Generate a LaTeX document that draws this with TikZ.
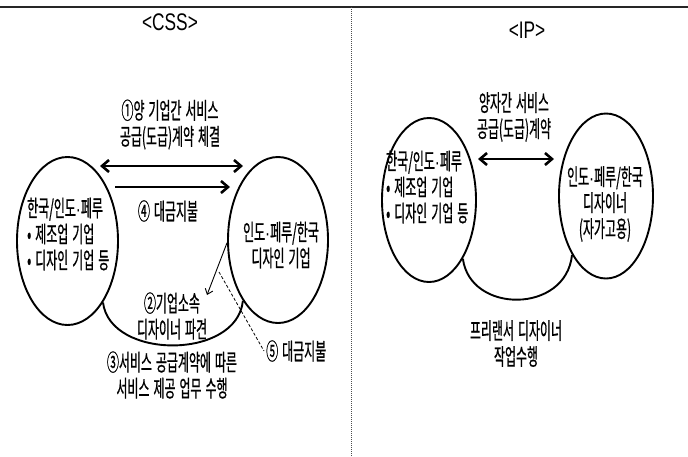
\documentclass[tikz,border=0pt]{standalone}
\usepackage{fontspec}
\usetikzlibrary{shapes.geometric, arrows.meta, calc}
\newfontfamily\krfont[FakeStretch=0.52, FakeBold=0.7]{Noto Sans CJK KR}
\newfontfamily\latfont[FakeStretch=0.72]{Liberation Sans}
\newcommand{\kdot}{{\latfont\fontsize{21}{26}\selectfont ·}}
\newcommand{\krtext}{\krfont\fontsize{23}{26}\selectfont\spaceskip 4pt plus 1pt\relax}
\begin{document}
\begin{tikzpicture}[x=1pt, y=-1pt,
  oval/.style={ellipse, draw=black, line width=1.9pt, inner sep=0pt},
  kr/.style={font=\krtext, inner sep=0pt, align=center},
  krleft/.style={font=\krtext, inner sep=0pt, align=left},
  titletext/.style={font=\latfont\fontsize{24}{26}\selectfont, inner sep=0pt},
  bigarrow/.style={line width=2.6pt, -{Straight Barb[length=7pt,width=12pt]}},
  bigdouble/.style={line width=2.6pt, {Straight Barb[length=7pt,width=12pt]}-{Straight Barb[length=7pt,width=12pt]}},
  thinarrow/.style={line width=0.9pt, -{Straight Barb[length=5pt,width=8pt]}},
  dashline/.style={line width=0.8pt, dash pattern=on 3pt off 2pt},
  arcline/.style={line width=1.9pt},
  rule/.style={line width=1.5pt, black!85},
  divider/.style={line width=0.9pt, black!70, dash pattern=on 1pt off 1pt}
]
\fill[white] (0,0) rectangle (688,456);
\useasboundingbox (0,0) rectangle (688,456);

% frame lines
\draw[rule] (0,7) -- (688,7);
\draw[divider] (351,7) -- (351,456);

% titles
\node[titletext] (tcss) at (170,22) {<CSS>};
\node[titletext] (tip) at (527,30) {<IP>};

% ===== CSS =====
\node[oval, minimum width=101pt, minimum height=168pt] (L1) at (67.5,241) {};
\node[oval, minimum width=100pt, minimum height=166pt] (R1) at (278,240) {};

\node[krleft, anchor=west] (L1t) at (27,234) {한국/인도\kdot 페루\\• 제조업 기업\\• 디자인 기업 등};
\node[kr] (R1t) at (281,245) {인도\kdot 페루/한국\\디자인 기업};

\node[kr] (t1) at (170,124.5) {①양 기업간 서비스\\공급(도급)계약 체결};
\node[kr] (t4) at (168,211) {④ 대금지불};
\node[kr] (t2) at (172,316) {②기업소속\\디자이너 파견};
\node[kr] (t3) at (172,375) {③서비스 공급계약에 따른\\서비스 제공 업무 수행};
\node[kr, anchor=west] (t5) at (266,351) {⑤ 대금지불};

\draw[bigdouble] ($(L1.center)+(32.5,-75)$) -- ($(R1.center)+(-35,-74)$);
\draw[bigarrow] ($(L1.center)+(47.5,-54)$) -- ($(R1.center)+(-48,-53)$);

\draw[arcline] (L1.-60) .. controls (110,360) and (237,360) .. (R1.-120);

\coordinate (a2) at (207,295);
\draw[thinarrow] (R1.183) -- (a2);

\coordinate (d1) at (219,272);
\draw[dashline] (d1) -- ([xshift=-2pt]t5.west);

% ===== IP =====
\node[oval, minimum width=94pt, minimum height=164pt] (L2) at (429,200) {};
\node[oval, minimum width=94pt, minimum height=165pt] (R2) at (606,196) {};

\node[krleft, anchor=west] (L2t) at (386,187) {한국/인도\kdot 페루\\• 제조업 기업\\• 디자인 기업 등};
\node[kr] (R2t) at (605,204) {인도\kdot 페루/한국\\디자이너\\(자가고용)};

\node[kr] (ipt) at (514,117) {양자간 서비스\\공급(도급)계약};
\node[kr] (ipb) at (516,343.5) {프리랜서 디자이너\\작업수행};

\draw[bigdouble] ($(L2.center)+(49,-41)$) -- ($(R2.center)+(-52,-37)$);
\draw[arcline] (L2.-60) .. controls (470,314) and (566,314) .. (R2.-120);
\end{tikzpicture}
\end{document}
